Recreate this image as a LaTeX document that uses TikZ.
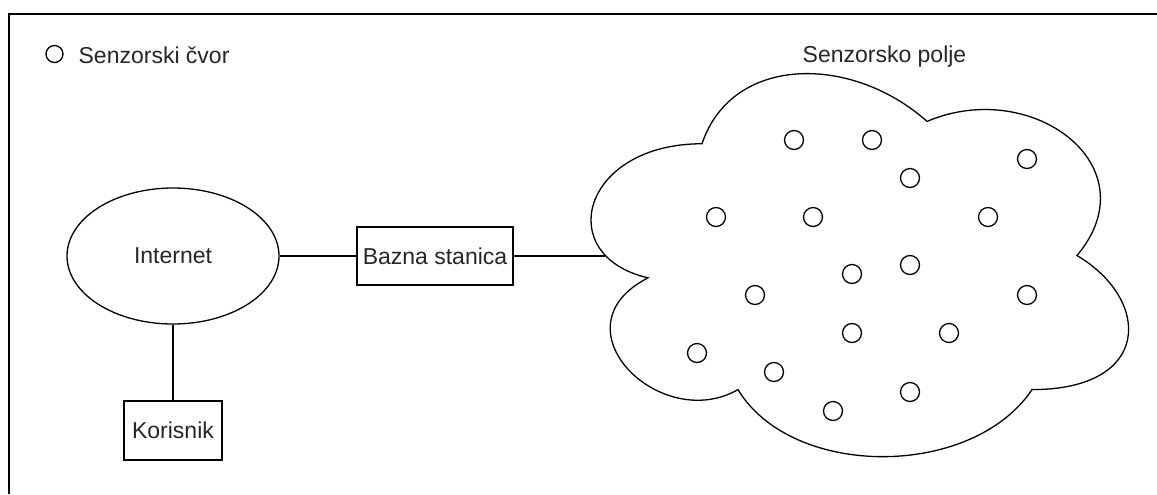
\documentclass[tikz,border=0pt]{standalone}
\usepackage{fontspec}
\setmainfont{Liberation Sans}
\usepackage{tikz}
\usetikzlibrary{shapes.geometric}

\begin{document}
\begin{tikzpicture}[x=0.5pt,y=-0.5pt,line width=0.65pt,
    font=\fontsize{11.5}{14}\selectfont,
    label/.style={text=black!85,inner sep=0pt},
    box/.style={draw,rectangle,text=black!85,inner sep=0pt},
    sensor/.style={draw,circle,inner sep=0pt,minimum size=9.5pt}]
  \useasboundingbox (0,0) rectangle (1157,494);
  % frame, only its top and left edge are on the page
  \draw[line width=1pt] (9,494) -- (9,14) -- (1157,14);
  % legend
  \node[sensor,minimum size=8.5pt] (legsensor) at (54.5,54) {};
  \node[label,anchor=base west] (legtext) at (78,63) {Senzorski čvor};
  % internet, base station and user
  \node[draw,ellipse,text=black!85,minimum width=106pt,minimum height=68pt] (inet) at (173,256) {Internet};
  \node[box,minimum width=78pt,minimum height=29pt] (bazna) at (435,256) {Bazna stanica};
  \node[box,minimum width=49pt,minimum height=29.5pt] (korisnik) at (173,430.5) {Korisnik};
  % the sensor field, a cloud
  \draw (702,143.75) .. controls (582,143.75) and (552,255.5) .. (648,277.85)
    .. controls (552,327.02) and (660,434.3) .. (738,389.6)
    .. controls (792,479) and (972,479) .. (1032,389.6)
    .. controls (1152,389.6) and (1152,300.2) .. (1077,255.5)
    .. controls (1152,166.1) and (1032,76.7) .. (927,121.4)
    .. controls (852,54.35) and (732,54.35) .. (702,143.75) -- cycle;
  \coordinate (fieldin) at (605,256);
  \node[label,anchor=base] (fieldname) at (884.5,62) {Senzorsko polje};
  % sensor nodes
  \foreach \x/\y [count=\i] in {794/140,872/140,910/178,1027/159,716/217,813/217,
      988/217,852/274,910/265,755/295,1027/295,852/333,949/333,697/353,774/372,
      833/411,910/392}
    \node[sensor] (s\i) at (\x,\y) {};
  % links
  \draw (inet) -- (bazna);
  \draw (bazna) -- (fieldin);
  \draw (inet) -- (korisnik);
\end{tikzpicture}
\end{document}
